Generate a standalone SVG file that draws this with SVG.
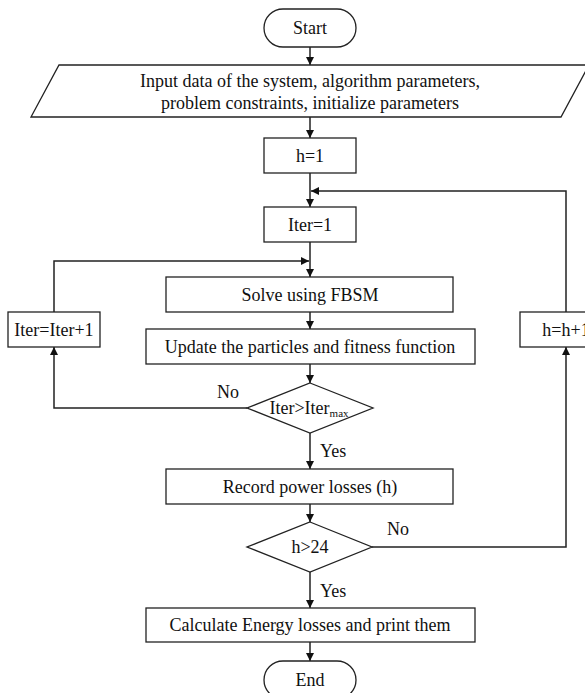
<svg xmlns="http://www.w3.org/2000/svg" width="585" height="693" viewBox="0 0 585 693">
<style>
.shape{fill:#fff;stroke:#222;stroke-width:1.3}
.t{font-family:"Liberation Serif","Times New Roman",serif;font-size:18px;fill:#111;text-anchor:middle}
.lbl{font-family:"Liberation Serif","Times New Roman",serif;font-size:18px;fill:#111}
.c{fill:none;stroke:#222;stroke-width:1.5;marker-end:url(#ah)}
</style>
<defs>
<marker id="ah" viewBox="0 0 10 10" refX="10" refY="5" markerWidth="8" markerHeight="8" markerUnits="userSpaceOnUse" orient="auto">
<path d="M0,0 L10,5 L0,10 Z" fill="#111"/>
</marker>
</defs>
<g id="connectors">
<path class="c" d="M310,47 V65"/>
<path class="c" d="M310,117 V138"/>
<path class="c" d="M310,173 V207"/>
<path class="c" d="M310,242 V277"/>
<path class="c" d="M310,312 V329"/>
<path class="c" d="M310,364 V383"/>
<path class="c" d="M310,433 V469"/>
<path class="c" d="M310,504 V522"/>
<path class="c" d="M310,572 V608"/>
<path class="c" d="M310,642 V661"/>
<path class="c" d="M247,408 H54 V347"/>
<path class="c" d="M54,312 V261 H309"/>
<path class="c" d="M372,547 H566 V347"/>
<path class="c" d="M566,312 V191 H311"/>
<text class="lbl" x="217" y="398">No</text>
<text class="lbl" x="320" y="457">Yes</text>
<text class="lbl" x="387" y="535">No</text>
<text class="lbl" x="320" y="597">Yes</text>
</g>
<g id="start">
<rect class="shape" x="264" y="9" width="92" height="38" rx="19" ry="19"/>
<text class="t" x="310" y="34">Start</text>
</g>
<g id="input">
<polygon class="shape" points="59,65 589,65 561,117 31,117"/>
<text class="t" x="310" y="87">Input data of the system, algorithm parameters,</text>
<text class="t" x="310" y="109">problem constraints, initialize parameters</text>
</g>
<g id="h1">
<rect class="shape" x="264" y="138" width="92" height="35"/>
<text class="t" x="310" y="162">h=1</text>
</g>
<g id="iter1">
<rect class="shape" x="264" y="207" width="92" height="35"/>
<text class="t" x="310" y="231">Iter=1</text>
</g>
<g id="solve">
<rect class="shape" x="166" y="277" width="287" height="35"/>
<text class="t" x="310" y="301">Solve using FBSM</text>
</g>
<g id="update">
<rect class="shape" x="146" y="329" width="329" height="35"/>
<text class="t" x="310" y="353">Update the particles and fitness function</text>
</g>
<g id="iterinc">
<rect class="shape" x="8" y="312" width="92" height="35"/>
<text class="t" x="54" y="336">Iter=Iter+1</text>
</g>
<g id="hinc">
<rect class="shape" x="520" y="312" width="92" height="35"/>
<text class="t" x="566" y="336">h=h+1</text>
</g>
<g id="dec1">
<polygon class="shape" points="310,383 373,408 310,433 247,408"/>
<text class="t" x="309" y="414">Iter&gt;Iter<tspan font-size="11" dy="3">max</tspan></text>
</g>
<g id="record">
<rect class="shape" x="166" y="469" width="287" height="35"/>
<text class="t" x="310" y="493">Record power losses (h)</text>
</g>
<g id="dec2">
<polygon class="shape" points="310,522 372,547 310,572 247,547"/>
<text class="t" x="310" y="553">h&gt;24</text>
</g>
<g id="calc">
<rect class="shape" x="146" y="608" width="329" height="34"/>
<text class="t" x="310" y="631">Calculate Energy losses and print them</text>
</g>
<g id="end">
<rect class="shape" x="264" y="661" width="92" height="38" rx="19" ry="19"/>
<text class="t" x="310" y="686">End</text>
</g>
</svg>
